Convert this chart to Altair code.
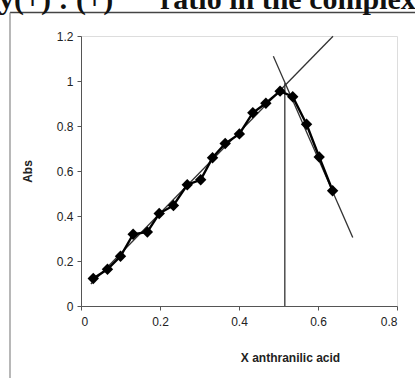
import altair as alt
import pandas as pd

# Measured data (mole fraction of anthranilic acid vs absorbance)
x_frac = [0.031, 0.067, 0.100, 0.132, 0.168, 0.198, 0.234, 0.269, 0.303, 0.333,
          0.365, 0.401, 0.435, 0.468, 0.504, 0.536, 0.571, 0.603, 0.637]
abs_vals = [0.122, 0.163, 0.221, 0.319, 0.329, 0.411, 0.447, 0.539, 0.561, 0.659,
            0.722, 0.765, 0.859, 0.901, 0.955, 0.930, 0.808, 0.662, 0.512]

# Fitted straight lines (end points) and the intersection marker
rise_x = [0.025, 0.638]
rise_y = [0.098, 1.199]
fall_x = [0.487, 0.688]
fall_y = [1.110, 0.304]
vert_x = [0.516, 0.516]
vert_y = [0.0, 0.99]

x_ticks = [0, 0.2, 0.4, 0.6, 0.8]
y_ticks = [0, 0.2, 0.4, 0.6, 0.8, 1.0, 1.2]

pts = pd.DataFrame({"x": x_frac, "y": abs_vals})
fits = pd.DataFrame({
    "x": rise_x + fall_x + vert_x,
    "y": rise_y + fall_y + vert_y,
    "g": ["rise"] * 2 + ["fall"] * 2 + ["vert"] * 2,
})

font = "Liberation Sans"

xs = alt.Scale(domain=[0, 0.8], nice=False)
ys = alt.Scale(domain=[0, 1.2], nice=False)

x_axis = alt.Axis(values=x_ticks, format=".2~f", grid=False, domainColor="#555",
                  tickColor="#555", tickSize=4, labelPadding=6, labelFontSize=12,
                  labelColor="#222", labelFont=font, title="X anthranilic acid",
                  titleFont=font, titleFontSize=12, titleFontWeight="bold",
                  titleColor="#222", titleX=209, titleY=51, titleBaseline="middle",
                  titleAlign="center")
y_axis = alt.Axis(values=y_ticks, format=".2~f", grid=False, domainColor="#555",
                  tickColor="#555", tickSize=4, labelPadding=4, labelFontSize=12,
                  labelColor="#222", labelFont=font, title="Abs", titleFont=font,
                  titleFontSize=12, titleFontWeight="bold", titleColor="#222",
                  titleX=-47, titleY=135)

fit_lines = alt.Chart(fits).mark_line(color="#333", strokeWidth=1.3).encode(
    x=alt.X("x:Q", scale=xs, axis=x_axis),
    y=alt.Y("y:Q", scale=ys, axis=y_axis),
    detail="g:N",
)

data_line = alt.Chart(pts).mark_line(
    color="black", strokeWidth=2.4,
    point=alt.OverlayMarkDef(shape="diamond", filled=True, color="black", size=130),
).encode(
    x=alt.X("x:Q", scale=xs),
    y=alt.Y("y:Q", scale=ys),
)

one = alt.Data(values=[{}])
frame_top = alt.Chart(one).mark_rule(color="#444", strokeWidth=1.5).encode(
    x=alt.value(-71), x2=alt.value(340), y=alt.value(-23.5))
frame_left = alt.Chart(one).mark_rule(color="#888", strokeWidth=1.2).encode(
    x=alt.value(-71), y=alt.value(-23.5), y2=alt.value(345))

title_a = alt.Chart(one).mark_text(
    text="y(+) : (+)", font="Liberation Serif", fontWeight="bold", fontSize=30,
    align="left", baseline="alphabetic", color="#111",
).encode(x=alt.value(-82), y=alt.value(-27))
title_b = alt.Chart(one).mark_text(
    text="ratio in the complex", font="Liberation Serif", fontWeight="bold",
    fontSize=30, align="left", baseline="alphabetic", color="#111",
).encode(x=alt.value(79), y=alt.value(-27))

chart = alt.layer(fit_lines, data_line, frame_top, frame_left, title_a, title_b).properties(
    width=316, height=270,
    autosize=alt.AutoSizeParams(type="none"),
    padding={"left": 81, "top": 36, "right": 18, "bottom": 72},
).configure_view(stroke=None).configure(background="white")

chart.save("out.html", embed_options={"renderer": "svg", "actions": False})
